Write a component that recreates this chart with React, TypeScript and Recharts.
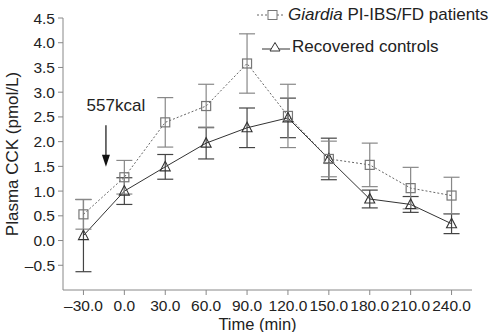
import React from "react";
import {
  LineChart,
  Line,
  XAxis,
  YAxis,
  ErrorBar,
  Label,
  ReferenceLine,
  ReferenceDot,
} from "recharts";

const times = [-30, 0, 30, 60, 90, 120, 150, 180, 210, 240];
const giardia = [0.53, 1.28, 2.39, 2.72, 3.58, 2.52, 1.65, 1.53, 1.06, 0.91];
const giardiaErr = [0.3, 0.34, 0.5, 0.44, 0.6, 0.64, 0.36, 0.44, 0.42, 0.37];
const controls = [0.1, 1.0, 1.49, 1.97, 2.28, 2.48, 1.65, 0.84, 0.73, 0.34];
const controlsErr = [0.73, 0.27, 0.25, 0.32, 0.4, 0.4, 0.42, 0.18, 0.16, 0.2];

const xTicks = [-30, 0, 30, 60, 90, 120, 150, 180, 210, 240];
const yTicks = [-0.5, 0, 0.5, 1, 1.5, 2, 2.5, 3, 3.5, 4, 4.5];

const data = times.map((t, i) => ({
  t,
  giardia: giardia[i],
  giardiaErr: giardiaErr[i],
  controls: controls[i],
  controlsErr: controlsErr[i],
}));

const FONT = "'Liberation Sans', Arial, sans-serif";
const fmt = (v: number) => v.toFixed(1).replace("-", "\u2013");

const SquareDot = (p: any) => (
  <rect
    key={`sq-${p.index}`}
    x={p.cx - 4.5}
    y={p.cy - 4.5}
    width={9}
    height={9}
    fill="none"
    stroke="#777"
    strokeWidth={1.2}
  />
);

const TriDot = (p: any) => (
  <polygon
    key={`tr-${p.index}`}
    points={`${p.cx},${p.cy - 5.5} ${p.cx - 5},${p.cy + 4} ${p.cx + 5},${p.cy + 4}`}
    fill="none"
    stroke="#333"
    strokeWidth={1.1}
  />
);

// legend drawn as an overlay so it doesn't eat plot space
const LegendBox = () => (
  <div
    style={{
      position: "absolute",
      left: 257,
      top: 5,
      fontFamily: FONT,
      fontSize: 17,
      color: "#222",
      lineHeight: "20px",
      whiteSpace: "nowrap",
    }}
  >
    <div style={{ display: "flex", alignItems: "center", height: 20 }}>
      <svg width={30} height={12} style={{ marginRight: 1 }}>
        <line x1={0} y1={6} x2={28} y2={6} stroke="#666" strokeDasharray="2 2" />
        <rect x={11} y={1.5} width={9} height={9} fill="#fff" stroke="#777" />
      </svg>
      <span>
        <i>Giardia</i> PI-IBS/FD patients
      </span>
    </div>
    <div style={{ display: "flex", alignItems: "center", height: 20, marginTop: 12 }}>
      <svg width={30} height={12} style={{ marginLeft: 5 }}>
        <line x1={0} y1={8} x2={28} y2={8} stroke="#333" />
        <polygon points="13,1.5 8,10 18,10" fill="#fff" stroke="#333" />
      </svg>
      <span>Recovered controls</span>
    </div>
  </div>
);

const App: React.FC = () => {
  return (
    <div style={{ position: "absolute", left: 0, top: 0, width: 489, height: 332, background: "#fff" }}>
      <LineChart
        width={489}
        height={332}
        data={data}
        margin={{ top: 18, right: 17, left: 8, bottom: 0 }}
      >
        <XAxis
          dataKey="t"
          type="number"
          domain={[-45, 255]}
          ticks={xTicks}
          tickFormatter={fmt}
          interval={0}
          height={42}
          tickSize={5}
          tickMargin={5}
          stroke="#888"
          tick={{ fill: "#222", fontSize: 15.5, fontFamily: FONT }}
        >
          <Label
            value="Time (min)"
            position="insideBottom"
            offset={2}
            dx={-10}
            style={{ fill: "#222", fontSize: 16.5, fontFamily: FONT }}
          />
        </XAxis>
        <YAxis
          type="number"
          domain={[-1, 4.5]}
          ticks={yTicks}
          tickFormatter={fmt}
          interval={0}
          width={55}
          tickSize={5}
          tickMargin={3}
          stroke="#888"
          tick={{ fill: "#222", fontSize: 15.5, fontFamily: FONT }}
        >
          <Label
            value="Plasma CCK (pmol/L)"
            angle={-90}
            position="insideLeft"
            offset={0}
            dx={4}
            style={{ textAnchor: "middle", fill: "#222", fontSize: 17, fontFamily: FONT }}
          />
        </YAxis>
        <ReferenceLine
          segment={[
            { x: -13.5, y: 2.33 },
            { x: -13.5, y: 1.7 },
          ]}
          stroke="#111"
          strokeWidth={1.2}
        />
        <ReferenceDot
          x={-13.5}
          y={1.49}
          r={0}
          shape={(p: any) => (
            <polygon
              points={`${p.cx},${p.cy} ${p.cx - 4},${p.cy - 12} ${p.cx + 4},${p.cy - 12}`}
              fill="#111"
            />
          )}
        />
        <ReferenceDot
          x={-6.2}
          y={2.74}
          r={0}
          shape={(p: any) => (
            <text
              x={p.cx}
              y={p.cy}
              textAnchor="middle"
              dominantBaseline="central"
              fill="#222"
              fontSize={17}
              fontFamily={FONT}
            >
              557kcal
            </text>
          )}
        />
        <Line
          dataKey="controls"
          stroke="#333"
          strokeWidth={1}
          dot={TriDot}
          activeDot={false}
          isAnimationActive={false}
        >
          <ErrorBar
            dataKey="controlsErr"
            direction="y"
            width={8}
            stroke="#444"
            strokeWidth={1.2}
            isAnimationActive={false}
          />
        </Line>
        <Line
          dataKey="giardia"
          stroke="#666"
          strokeWidth={1}
          strokeDasharray="2 2"
          dot={SquareDot}
          activeDot={false}
          isAnimationActive={false}
        >
          <ErrorBar
            dataKey="giardiaErr"
            direction="y"
            width={8}
            stroke="#888"
            strokeWidth={1.2}
            isAnimationActive={false}
          />
        </Line>
      </LineChart>
      <LegendBox />
    </div>
  );
};

export default App;
